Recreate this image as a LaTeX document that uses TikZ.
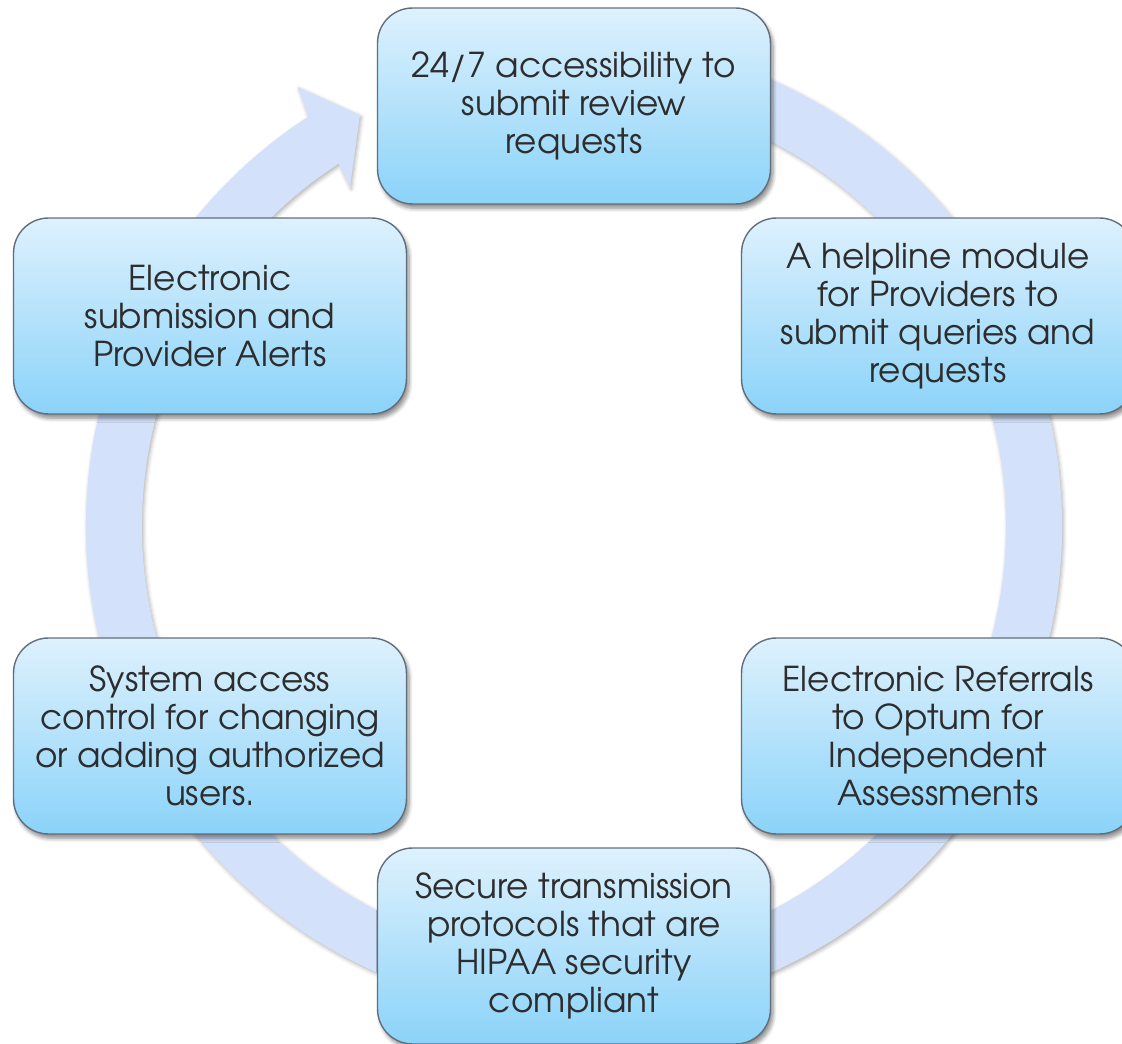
\documentclass[tikz,border=0pt]{standalone}
\usepackage{fontspec}
\setmainfont{TeX Gyre Adventor}
\usetikzlibrary{shadows.blur}
\definecolor{ringblue}{RGB}{211,226,250}
\definecolor{boxtop}{RGB}{222,241,253}
\definecolor{boxbottom}{RGB}{139,211,249}
\definecolor{boxline}{RGB}{98,110,124}
\definecolor{boxtext}{RGB}{45,45,45}
\tikzset{
	cyclebox/.style={draw=boxline, line width=0.8pt, rounded corners=0.7cm,
		top color=boxtop, bottom color=boxbottom,
		minimum width=7.86cm, minimum height=3.92cm, align=center,
		text=boxtext, font=\fontsize{19.5}{21.6}\selectfont,
		blur shadow={shadow xshift=1.5pt, shadow yshift=-2.5pt, shadow opacity=45, shadow blur steps=6}},
	cyclering/.style={fill=ringblue,
		blur shadow={shadow xshift=0.8pt, shadow yshift=-1.2pt, shadow opacity=30, shadow blur steps=4}}
}

\begin{document}
\begin{tikzpicture}[x=0.02cm,y=0.02cm]
	\useasboundingbox (-574,-518) rectangle (548,526);
	\fill[cyclering] (100:488) arc[start angle=100,end angle=-237,radius=488]
		-- (-276,439) -- (-214,411) -- (-224,339)
		-- (-237:432) arc[start angle=-237,end angle=100,radius=432] -- cycle;
	\foreach \X/\Y/\T [count=\Z] in {
		0/420/{24/7 accessibility to\\submit review\\requests},
		364/210/{A helpline module\\for Providers to\\submit queries and\\requests},
		364/-210/{Electronic Referrals\\to Optum for\\Independent\\Assessments},
		0/-420/{Secure transmission\\protocols that are\\HIPAA security\\compliant},
		-364/-210/{System access\\control for changing\\or adding authorized\\users.},
		-364/210/{Electronic\\submission and\\Provider Alerts}}
	{\node[cyclebox] (b\Z) at (\X,\Y) {\T};}
\end{tikzpicture}
\end{document}
